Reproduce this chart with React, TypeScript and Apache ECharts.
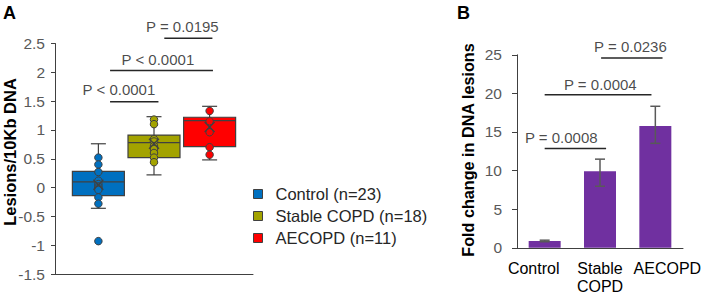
import React, { useEffect, useRef } from "react";
import * as echarts from "echarts";

// ---------- Panel A data ----------
const categoriesA = ["Control (n=23)", "Stable COPD (n=18)", "AECOPD (n=11)"];
const positionsA = [1, 2, 3];
const boxMin = [-0.36, 0.22, 0.48];
const boxQ1 = [-0.14, 0.52, 0.71];
const boxMedian = [0.1, 0.78, 1.16];
const boxQ3 = [0.28, 0.91, 1.22];
const boxMax = [0.76, 1.23, 1.41];
const meansA = [0.05, 0.76, 1.05];
const pointsControl = [0.52, 0.4, 0.27, 0.12, 0.06, 0.02, -0.01, -0.04, -0.17, -0.28, -0.93];
const pointsStable = [1.18, 1.1, 0.84, 0.8, 0.72, 0.67, 0.6, 0.52, 0.44];
const pointsAecopd = [1.33, 1.15, 0.96, 0.7, 0.57];
const pointsA = [pointsControl, pointsStable, pointsAecopd];
const colorsA = ["#0070C0", "#A3A300", "#FF0000"];

// significance brackets (data units): from/to on x, y level, label text + label anchor
const bracketFromA = [1.21, 1.21, 2.185];
const bracketToA = [2.08, 3.06, 3.05];
const bracketYA = [1.49, 2.03, 2.59];
const bracketTextA = ["P < 0.0001", "P < 0.0001", "P = 0.0195"];
const bracketTextXA = [1.37, 2.07, 2.51];
const bracketTextYA = [1.71, 2.23, 2.79];

// ---------- Panel B data ----------
const categoriesB = ["Control", "Stable\nCOPD", "AECOPD"];
const foldChange = [0.88, 9.9, 15.76];
const errLowB = [0.78, 7.97, 13.53];
const errHighB = [0.98, 11.48, 18.33];

const bracketFromB = [0, 0, 1.02];
const bracketToB = [1.11, 1.93, 2.13];
const bracketYB = [12.85, 19.83, 24.6];
const bracketTextB = ["P = 0.0008", "P = 0.0004", "P = 0.0236"];
const bracketTextXB = [0.3, 1.006, 1.55];
const bracketTextYB = [14.34, 21.1, 26.04];

const FONT = "'Liberation Sans', Arial, sans-serif";
const DARK = "#404040";

export default function App() {
  const ref = useRef<HTMLDivElement>(null);

  useEffect(() => {
    if (!ref.current) return;
    const chart = echarts.init(ref.current, null, { renderer: "svg" });

    const boxSeries = categoriesA.map((name, i) => ({
      type: "custom",
      name,
      xAxisIndex: 0,
      yAxisIndex: 0,
      itemStyle: { color: colorsA[i] },
      encode: { x: 0, y: [1, 2, 3, 4, 5] },
      data: [[positionsA[i], boxMin[i], boxQ1[i], boxMedian[i], boxQ3[i], boxMax[i]]],
      renderItem: (params: any, api: any) => {
        const x = api.value(0);
        const [cx, yMin] = api.coord([x, api.value(1)]);
        const yQ1 = api.coord([x, api.value(2)])[1];
        const yMed = api.coord([x, api.value(3)])[1];
        const yQ3 = api.coord([x, api.value(4)])[1];
        const yMax = api.coord([x, api.value(5)])[1];
        const hw = 26;
        const cw = 7.5;
        const ls = { stroke: DARK, lineWidth: 1.2 };
        return {
          type: "group",
          children: [
            { type: "line", shape: { x1: cx, y1: yMax, x2: cx, y2: yQ3 }, style: ls },
            { type: "line", shape: { x1: cx, y1: yQ1, x2: cx, y2: yMin }, style: ls },
            { type: "line", shape: { x1: cx - cw, y1: yMax, x2: cx + cw, y2: yMax }, style: ls },
            { type: "line", shape: { x1: cx - cw, y1: yMin, x2: cx + cw, y2: yMin }, style: ls },
            {
              type: "rect",
              shape: { x: cx - hw, y: yQ3, width: 2 * hw, height: yQ1 - yQ3 },
              style: { fill: colorsA[i], stroke: DARK, lineWidth: 1.2 },
            },
            { type: "line", shape: { x1: cx - hw, y1: yMed, x2: cx + hw, y2: yMed }, style: ls },
          ],
        };
      },
    }));

    const pointSeries = pointsA.map((pts, i) => ({
      type: "scatter",
      name: "pts" + i,
      xAxisIndex: 0,
      yAxisIndex: 0,
      symbolSize: 7.5,
      itemStyle: { color: colorsA[i], borderColor: DARK, borderWidth: 1, opacity: 1 },
      data: pts.map((v) => [positionsA[i], v]),
      z: 3,
    }));

    const meanSeries = {
      type: "custom",
      name: "means",
      xAxisIndex: 0,
      yAxisIndex: 0,
      z: 4,
      encode: { x: 0, y: 1 },
      data: meansA.map((m, i) => [positionsA[i], m]),
      renderItem: (params: any, api: any) => {
        const [cx, cy] = api.coord([api.value(0), api.value(1)]);
        const s = 5;
        const ls = { stroke: DARK, lineWidth: 1.3 };
        return {
          type: "group",
          children: [
            { type: "line", shape: { x1: cx - s, y1: cy - s, x2: cx + s, y2: cy + s }, style: ls },
            { type: "line", shape: { x1: cx - s, y1: cy + s, x2: cx + s, y2: cy - s }, style: ls },
          ],
        };
      },
    };

    const bracketLineSeries = (
      from: number[],
      to: number[],
      ys: number[],
      xAxisIndex: number,
      yAxisIndex: number
    ) =>
      from.map((f, i) => ({
        type: "line",
        name: "br" + xAxisIndex + "_" + i,
        xAxisIndex,
        yAxisIndex,
        clip: false,
        symbol: "none",
        lineStyle: { color: "#262626", width: 1.5 },
        data: [
          [f, ys[i]],
          [to[i], ys[i]],
        ],
        z: 5,
      }));

    const bracketLabelSeries = (
      texts: string[],
      xs: number[],
      ys: number[],
      xAxisIndex: number,
      yAxisIndex: number
    ) => ({
      type: "scatter",
      name: "lbl" + xAxisIndex,
      xAxisIndex,
      yAxisIndex,
      clip: false,
      symbolSize: 1,
      itemStyle: { color: "rgba(0,0,0,0)" },
      data: texts.map((t, i) => ({ value: [xs[i], ys[i]], name: t })),
      label: {
        show: true,
        position: "inside",
        formatter: (p: any) => p.name,
        fontSize: 15,
        fontFamily: FONT,
        color: "#1a1a1a",
      },
      z: 6,
    });

    const option: any = {
      animation: false,
      textStyle: { fontFamily: FONT },
      grid: [
        { left: 55, width: 198, top: 43.5, height: 230.5 },
        { left: 517, width: 166, top: 54.8, height: 194.5 },
      ],
      xAxis: [
        {
          type: "value",
          gridIndex: 0,
          min: 0.22,
          max: 3.78,
          axisLine: { show: true, onZero: false, lineStyle: { color: DARK, width: 1 } },
          axisTick: { show: false },
          axisLabel: { show: false },
          splitLine: { show: false },
        },
        {
          type: "category",
          gridIndex: 1,
          data: categoriesB,
          axisLine: { show: true, onZero: false, lineStyle: { color: DARK, width: 1 } },
          axisTick: { show: false },
          splitLine: { show: false },
          axisLabel: {
            margin: 12,
            interval: 0,
            formatter: (v: string, idx: number) =>
              v
                .split("\n")
                .map((s) => `{c${idx}|${s}}`)
                .join("\n"),
            rich: {
              c0: { fontSize: 16, color: "#000", lineHeight: 17.5, fontFamily: FONT, padding: [0, 22, 0, 0] },
              c1: { fontSize: 16, color: "#000", lineHeight: 17.5, fontFamily: FONT },
              c2: { fontSize: 16, color: "#000", lineHeight: 17.5, fontFamily: FONT, padding: [0, 0, 0, 24] },
            },
          },
        },
        {
          type: "value",
          gridIndex: 1,
          min: -0.5,
          max: 2.5,
          show: false,
        },
      ],
      yAxis: [
        {
          type: "value",
          gridIndex: 0,
          min: -1.5,
          max: 2.5,
          interval: 0.5,
          axisLine: { show: true, onZero: false, lineStyle: { color: DARK, width: 1 } },
          axisTick: { show: true, length: 4, lineStyle: { color: DARK } },
          axisLabel: { color: "#595959", fontSize: 15.5, margin: 10, fontFamily: FONT },
          splitLine: { show: false },
        },
        {
          type: "value",
          gridIndex: 1,
          min: 0,
          max: 25,
          interval: 5,
          axisLine: { show: true, onZero: false, lineStyle: { color: DARK, width: 1 } },
          axisTick: { show: true, length: 5, lineStyle: { color: DARK } },
          axisLabel: { color: "#595959", fontSize: 15.5, margin: 15, fontFamily: FONT },
          splitLine: { show: false },
        },
      ],
      legend: {
        data: categoriesA,
        orient: "vertical",
        left: 253,
        top: 185,
        padding: 0,
        itemWidth: 9,
        itemHeight: 9,
        itemGap: 4,
        icon: "rect",
        selectedMode: false,
        itemStyle: { borderColor: DARK, borderWidth: 1 },
        textStyle: { fontSize: 16.5, color: "#262626", lineHeight: 18, fontFamily: FONT, padding: [0, 0, 0, 8] },
      },
      graphic: [
        {
          type: "text",
          left: 3,
          top: 4,
          style: { text: "A", fontSize: 18, fontWeight: "bold", fill: "#000", fontFamily: FONT },
        },
        {
          type: "text",
          left: 457,
          top: 4,
          style: { text: "B", fontSize: 18, fontWeight: "bold", fill: "#000", fontFamily: FONT },
        },
        {
          type: "text",
          x: 10,
          y: 152,
          rotation: Math.PI / 2,
          style: {
            text: "Lesions/10Kb DNA",
            fontSize: 16.5,
            fontWeight: "bold",
            fill: "#000",
            fontFamily: FONT,
            align: "center",
            verticalAlign: "middle",
          },
        },
        {
          type: "text",
          x: 468,
          y: 150,
          rotation: Math.PI / 2,
          style: {
            text: "Fold change in DNA lesions",
            fontSize: 16.2,
            fontWeight: "bold",
            fill: "#000",
            fontFamily: FONT,
            align: "center",
            verticalAlign: "middle",
          },
        },
      ],
      series: [
        ...boxSeries,
        ...pointSeries,
        meanSeries,
        ...bracketLineSeries(bracketFromA, bracketToA, bracketYA, 0, 0),
        bracketLabelSeries(bracketTextA, bracketTextXA, bracketTextYA, 0, 0),
        {
          type: "bar",
          name: "Fold change",
          xAxisIndex: 1,
          yAxisIndex: 1,
          barWidth: 32,
          itemStyle: { color: "#7030A0" },
          data: foldChange,
        },
        {
          type: "custom",
          name: "errB",
          xAxisIndex: 1,
          yAxisIndex: 1,
          z: 4,
          encode: { x: 0, y: [1, 2] },
          data: errLowB.map((lo, i) => [i, lo, errHighB[i]]),
          renderItem: (params: any, api: any) => {
            const [cx, yLo] = api.coord([api.value(0), api.value(1)]);
            const yHi = api.coord([api.value(0), api.value(2)])[1];
            const cw = 5;
            const ls = { stroke: "#595959", lineWidth: 1.5 };
            return {
              type: "group",
              children: [
                { type: "line", shape: { x1: cx, y1: yLo, x2: cx, y2: yHi }, style: ls },
                { type: "line", shape: { x1: cx - cw, y1: yHi, x2: cx + cw, y2: yHi }, style: ls },
                { type: "line", shape: { x1: cx - cw, y1: yLo, x2: cx + cw, y2: yLo }, style: ls },
              ],
            };
          },
        },
        ...bracketLineSeries(bracketFromB, bracketToB, bracketYB, 2, 1),
        bracketLabelSeries(bracketTextB, bracketTextXB, bracketTextYB, 2, 1),
      ],
    };

    chart.setOption(option);
    return () => chart.dispose();
  }, []);

  return (
    <div
      ref={ref}
      style={{ position: "fixed", left: 0, top: 0, width: 708, height: 294, background: "#fff" }}
    />
  );
}
